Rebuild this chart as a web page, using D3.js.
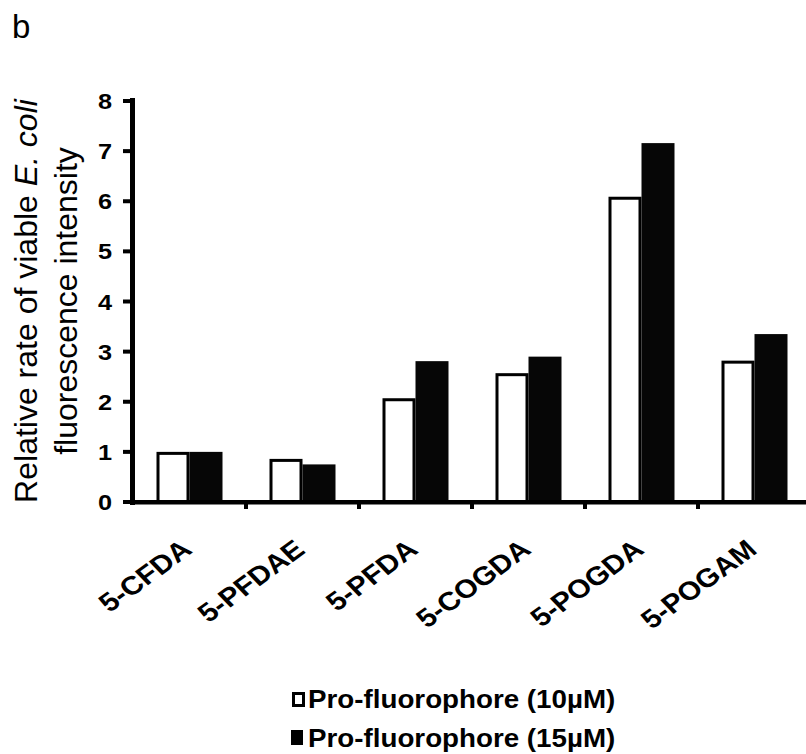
<!doctype html>
<html>
<head>
<meta charset="utf-8">
<title>Relative rate of viable E. coli</title>
<script src="https://d3js.org/d3.v7.min.js"></script>
<style>
  body { margin: 0; background: #fff; }
  text { font-family: "Liberation Sans", Arial, sans-serif; fill: #000; }
</style>
</head>
<body>
<script>
// data
var categories = ["5-CFDA", "5-PFDAE", "5-PFDA", "5-COGDA", "5-POGDA", "5-POGAM"];
var seriesNames = ["Pro-fluorophore (10\u00b5M)", "Pro-fluorophore (15\u00b5M)"];
var values10 = [1.0, 0.86, 2.07, 2.57, 6.09, 2.82];
var values15 = [1.0, 0.75, 2.81, 2.90, 7.16, 3.35];
var yTicks = [0, 1, 2, 3, 4, 5, 6, 7, 8];

var w = 806, h = 754;
var svg = d3.select("body").append("svg")
  .attr("width", w).attr("height", h);

// panel letter
svg.append("text").attr("x", 12).attr("y", 38)
  .style("font-size", "33px").text("b");

var x0 = d3.scaleBand().domain(categories).range([133, 811]);
var x1 = d3.scaleBand().domain(seriesNames)
  .range([x0.bandwidth() / 2 - 33, x0.bandwidth() / 2 + 33]);
var y = d3.scaleLinear().domain([0, 8]).range([502, 101]);

var rows = categories.map(function(c, i) {
  return { cat: c, vals: [values10[i], values15[i]] };
});

// bars
var groups = svg.append("g").selectAll("g")
  .data(rows).enter().append("g")
  .attr("transform", function(d) { return "translate(" + x0(d.cat) + ",0)"; });

groups.selectAll("rect")
  .data(function(d) { return d.vals.map(function(v, j) { return { s: seriesNames[j], v: v, j: j }; }); })
  .enter().append("rect")
  .attr("x", function(d) { return x1(d.s) + (d.j == 0 ? 1.5 : 0); })
  .attr("y", function(d) { return y(d.v) + (d.j == 0 ? 1.5 : 0); })
  .attr("width", function(d) { return x1.bandwidth() - (d.j == 0 ? 3 : 0); })
  .attr("height", function(d) { return y(0) - y(d.v) - (d.j == 0 ? 1.5 : 0); })
  .style("fill", function(d) { return d.j == 0 ? "#fff" : "#060606"; })
  .style("stroke", function(d) { return d.j == 0 ? "#000" : "none"; })
  .style("stroke-width", 3);

// y axis (drawn by hand for the heavy look)
var yAxis = svg.append("g");
yAxis.append("path")
  .attr("d", "M132.5," + (y(8) - 3) + "V" + (y(0) + 3))
  .style("fill", "none")
  .style("stroke", "#000").style("stroke-width", 5);
yAxis.selectAll(".yt")
  .data(yTicks).enter().append("rect")
  .attr("class", "yt")
  .attr("x", 123).attr("width", 9)
  .attr("y", function(d) { return y(d) - 2; })
  .attr("height", 4)
  .style("fill", "#000");
yAxis.selectAll(".yl")
  .data(yTicks).enter().append("text")
  .attr("class", "yl")
  .attr("text-anchor", "end")
  .attr("transform", function(d) { return "translate(112," + (y(d) + 8) + ") scale(1.15,1)"; })
  .style("font-size", "22px").style("font-weight", "bold")
  .text(function(d) { return d; });

// x axis
var xAxis = svg.append("g").attr("transform", "translate(0," + y(0) + ")");
xAxis.append("rect").attr("x", 130).attr("width", 681)
  .attr("y", -2).attr("height", 4.5)
  .style("fill", "#000");
xAxis.selectAll(".xt")
  .data(categories.slice(1)).enter().append("rect")
  .attr("class", "xt")
  .attr("x", function(d) { return x0(d) - 2; })
  .attr("width", 4)
  .attr("y", 0).attr("height", 7)
  .style("fill", "#000");

xAxis.selectAll(".xl")
  .data(categories).enter().append("text")
  .attr("class", "xl")
  .attr("text-anchor", "end")
  .attr("transform", function(d) {
    return "translate(" + (x0(d) + x0.bandwidth() / 2 + 4) + ",50) scale(1.15,1) rotate(-40)";
  })
  .style("font-size", "26px").style("font-weight", "bold")
  .text(function(d) { return d; });

// y title
var yt = svg.append("text")
  .attr("transform", "translate(37,301) rotate(-90)")
  .attr("text-anchor", "middle")
  .style("font-size", "32px");
yt.append("tspan").attr("x", 0).attr("y", 0).text("Relative rate of viable ");
yt.append("tspan").style("font-style", "italic").text("E. coli");
yt.append("tspan").attr("x", 0).attr("dy", 40).text("fluorescence intensity");

// legend
var legend = svg.append("g");
legend.selectAll("rect")
  .data(seriesNames).enter().append("rect")
  .attr("x", function(d, i) { return i == 0 ? 293.5 : 291; })
  .attr("y", function(d, i) { return i == 0 ? 693.5 : 730; })
  .attr("width", function(d, i) { return i == 0 ? 10 : 12; })
  .attr("height", function(d, i) { return i == 0 ? 12 : 15; })
  .style("fill", function(d, i) { return i == 0 ? "#fff" : "#000"; })
  .style("stroke", function(d, i) { return i == 0 ? "#000" : "none"; })
  .style("stroke-width", 3);
legend.selectAll("text")
  .data(seriesNames).enter().append("text")
  .attr("transform", function(d, i) { return "translate(308," + (708 + i * 39) + ") scale(1.11,1)"; })
  .style("font-size", "25px").style("font-weight", "bold")
  .text(function(d) { return d; });
</script>
</body>
</html>
